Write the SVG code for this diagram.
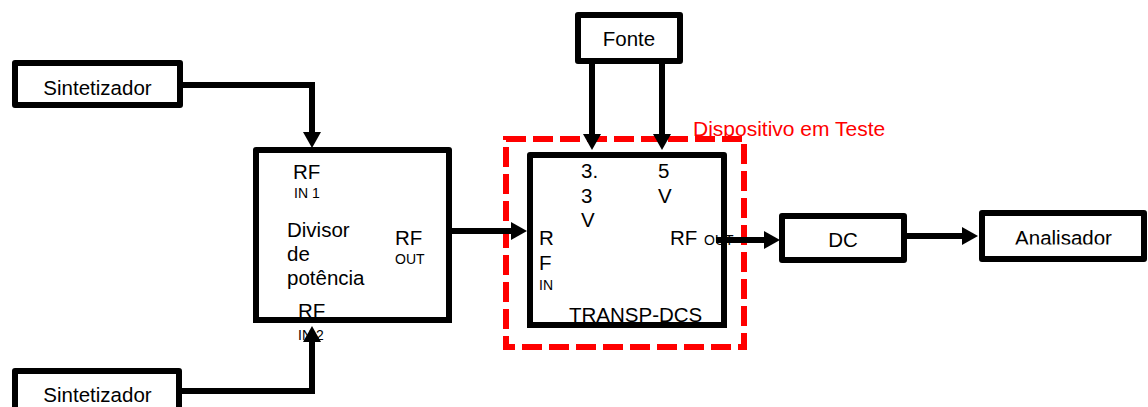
<svg xmlns="http://www.w3.org/2000/svg" width="1148" height="407" viewBox="0 0 1148 407">
  <style>
    .box { fill: #ffffff; stroke: #000000; stroke-width: 6; stroke-linejoin: round; }
    .t { font-family: "Liberation Sans", Arial, sans-serif; font-size: 20.5px; fill: #000000; }
    .s { font-family: "Liberation Sans", Arial, sans-serif; font-size: 14px; fill: #000000; }
    .red { font-family: "Liberation Sans", Arial, sans-serif; font-size: 21px; fill: #ff0000; }
    .conn { fill: none; stroke: #000000; stroke-width: 6; stroke-linejoin: miter; marker-end: url(#arrow); }
  </style>
  <defs>
    <marker id="arrow" markerUnits="userSpaceOnUse" viewBox="0 0 16 18" markerWidth="16" markerHeight="18" refX="8" refY="9" orient="auto">
      <path d="M0,0 L16,9 L0,18 z" fill="#000000"/>
    </marker>
    <clipPath id="clipSynth1"><rect x="0" y="0" width="300" height="95"/></clipPath>
    <clipPath id="clipAnal"><rect x="980" y="200" width="168" height="44.5"/></clipPath>
  </defs>
  <rect width="1148" height="407" fill="#ffffff"/>

  <g id="dut">
    <rect x="506" y="139" width="238" height="208" fill="none" stroke="#ff0000" stroke-width="6" stroke-dasharray="20 7"/>
    <text class="red" x="693" y="136">Dispositivo em Teste</text>
  </g>

  <g id="sintetizador1">
    <rect class="box" x="15" y="63" width="165" height="42"/>
    <text class="t" x="97.5" y="95" text-anchor="middle" clip-path="url(#clipSynth1)">Sintetizador</text>
  </g>

  <g id="sintetizador2">
    <rect class="box" x="15" y="371" width="164" height="50"/>
    <text class="t" x="97.5" y="402" text-anchor="middle">Sintetizador</text>
  </g>

  <g id="divisor">
    <rect class="box" x="256" y="150" width="193" height="170"/>
    <text class="t" x="293" y="179">RF</text>
    <text class="s" x="294" y="198">IN 1</text>
    <text class="t" x="287" y="237">Divisor</text>
    <text class="t" x="287" y="261">de</text>
    <text class="t" x="287" y="285">potência</text>
    <text class="t" x="395" y="245">RF</text>
    <text class="s" x="395" y="264">OUT</text>
    <text class="t" x="298" y="318">RF</text>
    <text class="s" x="298" y="340">IN 2</text>
    <line x1="253" y1="320" x2="452" y2="320" stroke="#000000" stroke-width="6"/>
  </g>

  <g id="fonte">
    <rect class="box" x="578" y="15" width="102" height="46"/>
    <text class="t" x="629" y="46" text-anchor="middle">Fonte</text>
  </g>

  <g id="transp">
    <rect class="box" x="530" y="155" width="194" height="170"/>
    <text class="t" x="581" y="178">3.</text>
    <text class="t" x="581" y="203">3</text>
    <text class="t" x="581" y="227">V</text>
    <text class="t" x="658" y="178">5</text>
    <text class="t" x="658" y="203">V</text>
    <text class="t" x="539" y="245">R</text>
    <text class="t" x="539" y="270">F</text>
    <text class="s" x="539" y="290">IN</text>
    <text class="t" x="670" y="245">RF</text>
    <text class="s" x="704" y="245">OUT</text>
    <text class="t" x="569" y="322">TRANSP-DCS</text>
    <line x1="527" y1="325" x2="727" y2="325" stroke="#000000" stroke-width="6"/>
  </g>

  <g id="dc">
    <rect class="box" x="782" y="216" width="122" height="44"/>
    <text class="t" x="843" y="247" text-anchor="middle">DC</text>
  </g>

  <g id="analisador">
    <rect class="box" x="982" y="213" width="162" height="46"/>
    <text class="t" x="1063.5" y="245" text-anchor="middle" clip-path="url(#clipAnal)">Analisador</text>
  </g>

  <g id="connectors">
    <path class="conn" d="M183 85 H312 V140"/>
    <path class="conn" d="M182 391 H312 V334"/>
    <path class="conn" d="M452 231 H519"/>
    <path class="conn" d="M592 64 V142"/>
    <path class="conn" d="M662 64 V142"/>
    <path class="conn" d="M716 240 H772"/>
    <path class="conn" d="M907 236 H970"/>
  </g>
</svg>
